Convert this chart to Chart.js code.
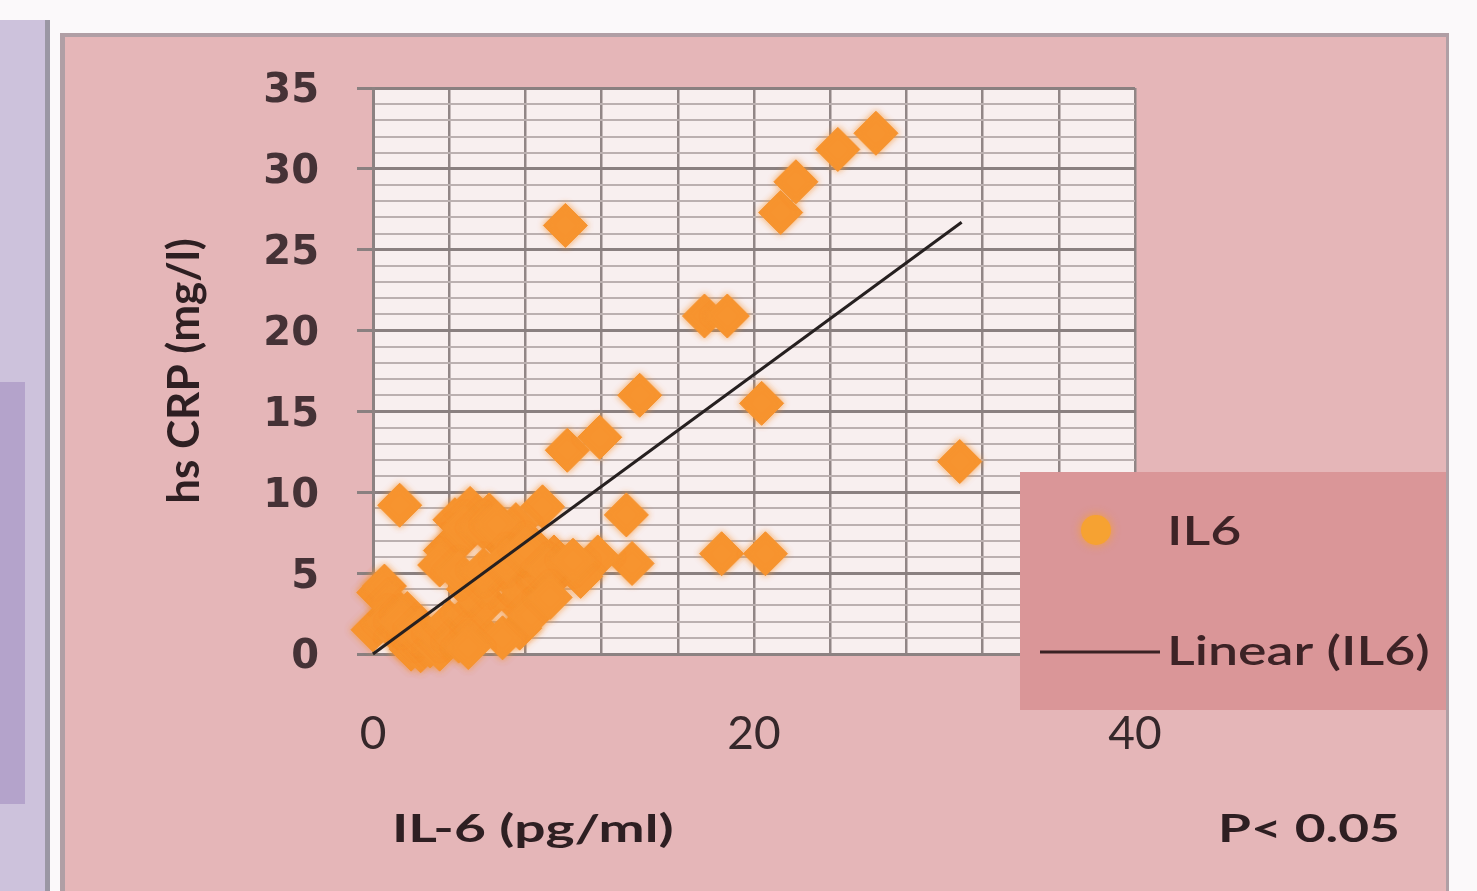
<!DOCTYPE html>
<html>
<head>
<meta charset="utf-8">
<script src="https://cdn.jsdelivr.net/npm/chart.js@4/dist/chart.umd.min.js"></script>
<style>
  html, body { margin: 0; padding: 0; background: #fbf9fa; }
  #wrap { width: 1477px; height: 891px; position: relative; }
</style>
</head>
<body>
<div id="wrap"><canvas id="scatterChart" width="1477" height="891"></canvas></div>
<script>
// IL-6 (pg/ml) vs hs CRP (mg/l)
const il6 = [
  10.1, 21.4, 22.2, 24.4, 26.4, 17.4, 18.6, 14.0, 20.4, 10.2, 11.9, 30.8,
  1.4, 13.3, 18.3, 20.6, 13.6, 11.8, 8.9, 7.7,
  0.0, 0.3, 0.6, 1.0, 0.8, 1.5, 2.0, 2.5, 3.0, 1.8, 2.2, 1.5, 2.5, 3.5,
  3.5, 4.0, 4.5, 5.0, 5.5, 6.0, 7.5, 5.0, 6.0, 7.3, 8.0, 8.4, 9.0, 10.0, 10.9, 9.5, 8.5,
  4.3, 5.1, 6.1, 3.8, 4.5, 6.7, 7.5, 4.8, 5.8, 6.5, 3.5, 4.5, 5.8, 7.0, 8.0, 9.2, 10.5,
  6.8, 5.0, 8.3, 9.3
];
const hsCrp = [
  26.5, 27.3, 29.2, 31.2, 32.2, 20.9, 20.9, 16.0, 15.5, 12.6, 13.4, 11.9,
  9.2, 8.6, 6.2, 6.2, 5.6, 6.0, 9.1, 1.6,
  1.5, 3.8, 4.2, 3.0, 2.0, 1.0, 0.3, 0.2, 0.5, 2.5, 1.2, 2.0, 1.5, 0.3,
  1.2, 2.0, 0.8, 2.5, 1.5, 3.2, 3.2, 4.0, 4.5, 4.6, 3.8, 5.4, 4.5, 5.4, 4.8, 6.0, 6.5,
  8.3, 9.0, 8.6, 6.4, 7.0, 7.0, 8.0, 7.8, 7.8, 8.0, 5.5, 5.0, 5.2, 5.8, 6.5, 5.2, 5.8,
  1.0, 0.4, 2.4, 3.5
];

// linear trend line end points
const trendX = [0, 30.9];
const trendY = [0, 26.7];

const xTicks = [0, 20, 40];
const yTicks = [0, 5, 10, 15, 20, 25, 30, 35];

const xTitle = "IL-6 (pg/ml)";
const yTitle = "hs CRP (mg/l)";
const pNote = "P< 0.05";

const points = il6.map((x, i) => ({ x: x, y: hsCrp[i] }));
const trend = trendX.map((x, i) => ({ x: x, y: trendY[i] }));

const ctx = document.getElementById("scatterChart").getContext("2d");

const backdropPlugin = {
  id: "backdrop",
  beforeDraw(chart) {
    const { ctx, chartArea } = chart;
    ctx.save();
    ctx.fillStyle = "#fbf9fa";
    ctx.fillRect(0, 0, chart.width, chart.height);

    // purple slide on the left
    ctx.fillStyle = "#cdc2dc";
    ctx.fillRect(0, 20, 46, chart.height - 20);
    ctx.fillStyle = "#b4a3cb";
    ctx.fillRect(0, 382, 25, 422);
    ctx.fillStyle = "#9b97a4";
    ctx.fillRect(45, 20, 5, chart.height - 20);

    // pink panel
    ctx.fillStyle = "#b09fa5";
    ctx.fillRect(60, 33, 1389, chart.height - 33);
    ctx.fillStyle = "#e5b6b8";
    ctx.fillRect(65, 37, 1381, chart.height - 37);

    // plot background
    ctx.fillStyle = "#f8efef";
    ctx.fillRect(chartArea.left, chartArea.top,
      chartArea.right - chartArea.left, chartArea.bottom - chartArea.top);
    ctx.restore();
  }
};

// soft edges on the diamonds
const glowPlugin = {
  id: "glow",
  beforeDatasetDraw(chart, args) {
    if (args.index !== 0) return;
    chart.ctx.save();
    chart.ctx.shadowColor = "rgba(247,148,47,0.8)";
    chart.ctx.shadowBlur = 6;
  },
  afterDatasetDraw(chart, args) {
    if (args.index !== 0) return;
    chart.ctx.restore();
  }
};

function stretchedText(c, text, x, y, sx) {
  c.save();
  c.translate(x, y);
  c.scale(sx, 1);
  c.fillText(text, 0, 0);
  c.restore();
}

const textPlugin = {
  id: "extraText",
  afterDraw(chart) {
    const { ctx } = chart;
    ctx.save();
    ctx.fillStyle = "#2e1f22";
    ctx.textBaseline = "middle";
    ctx.textAlign = "left";
    ctx.font = "bold 38px Lato";
    stretchedText(ctx, xTitle, 392, 830, 1.45);
    stretchedText(ctx, pNote, 1218, 830, 1.4);

    // legend box
    ctx.fillStyle = "#da9698";
    ctx.fillRect(1020, 472, 426, 238);

    const ds = chart.data.datasets;
    ctx.save();
    ctx.shadowColor = "rgba(247,160,50,0.9)";
    ctx.shadowBlur = 10;
    ctx.fillStyle = "#f6a232";
    ctx.beginPath();
    ctx.arc(1096, 530, 15, 0, Math.PI * 2);
    ctx.fill();
    ctx.restore();

    ctx.strokeStyle = "#3a2224";
    ctx.lineWidth = 3;
    ctx.beginPath();
    ctx.moveTo(1040, 652);
    ctx.lineTo(1160, 652);
    ctx.stroke();

    ctx.fillStyle = "#3d2326";
    ctx.font = "600 40px Lato";
    stretchedText(ctx, ds[0].label, 1167, 532, 1.34);
    stretchedText(ctx, ds[1].label, 1167, 652, 1.34);
    ctx.restore();
  }
};

new Chart(ctx, {
  type: "scatter",
  data: {
    datasets: [
      {
        label: "IL6",
        data: points,
        pointStyle: "rectRot",
        pointRadius: 22,
        pointHoverRadius: 22,
        backgroundColor: "#f7942f",
        borderColor: "#f7942f",
        borderWidth: 1,
        clip: false,
        order: 2
      },
      {
        label: "Linear (IL6)",
        data: trend,
        showLine: true,
        pointRadius: 0,
        borderColor: "#262020",
        borderWidth: 3,
        clip: false,
        order: 1
      }
    ]
  },
  options: {
    responsive: false,
    animation: false,
    layout: {
      padding: { left: 130, right: 342, top: 88, bottom: 87 }
    },
    scales: {
      x: {
        type: "linear",
        min: 0,
        max: 40,
        afterFit(scale) { scale.height = 150; },
        ticks: {
          stepSize: 4,
          autoSkip: false,
          maxRotation: 0,
          padding: 45,
          color: "#35272a",
          font: { family: "Lato", size: 46 },
          callback: v => xTicks.includes(v) ? v : ""
        },
        grid: {
          color: "#918686",
          lineWidth: 2.5,
          tickLength: 8,
          tickColor: "transparent"
        },
        border: { color: "#8c8282", width: 2.5 }
      },
      y: {
        type: "linear",
        min: 0,
        max: 35,
        afterFit(scale) { scale.width = 243; },
        ticks: {
          stepSize: 1,
          autoSkip: false,
          padding: 38,
          labelOffset: 4,
          color: "#453236",
          font: { family: "DejaVu Sans", size: 40, weight: "bold" },
          callback: v => yTicks.includes(v) ? v : ""
        },
        grid: {
          color: c => yTicks.includes(c.tick.value) ? "#8a8080" : "#bbb0b0",
          lineWidth: c => yTicks.includes(c.tick.value) ? 3 : 2,
          tickLength: 16,
          tickColor: c => yTicks.includes(c.tick.value) ? "#8a8080" : "transparent"
        },
        border: { color: "#8c8282", width: 3 },
        title: {
          display: true,
          text: yTitle,
          color: "#2e1f22",
          font: { family: "Lato", size: 44, weight: "bold" },
          padding: { top: 28, bottom: 0 }
        }
      }
    },
    plugins: {
      legend: { display: false },
      tooltip: { enabled: false }
    }
  },
  plugins: [backdropPlugin, glowPlugin, textPlugin]
});
</script>
</body>
</html>
